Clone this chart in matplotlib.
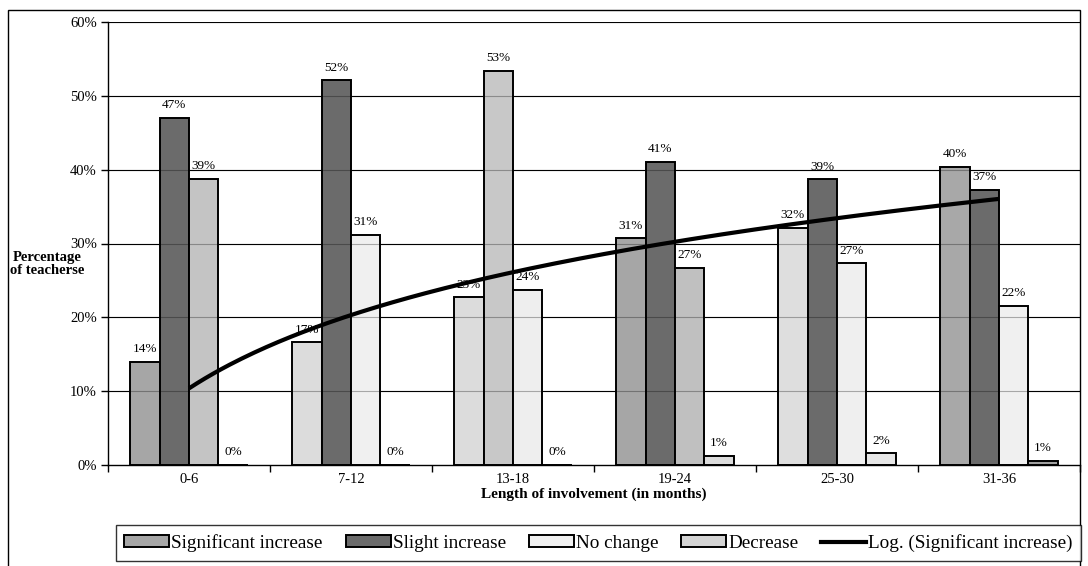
import numpy as np
import matplotlib
matplotlib.use("Agg")
import matplotlib.pyplot as plt
from matplotlib.patches import Patch, Rectangle
from matplotlib.lines import Line2D
from matplotlib.ticker import FixedLocator, NullFormatter

# ---- data -------------------------------------------------------------
categories = ["0-6", "7-12", "13-18", "19-24", "25-30", "31-36"]
series_names = ["Significant increase", "Slight increase", "No change", "Decrease"]
significant = [14.0, 16.6, 22.7, 30.7, 32.1, 40.4]
slight = [47.0, 52.1, 53.4, 41.1, 38.7, 37.3]
no_change = [38.8, 31.2, 23.7, 26.7, 27.3, 21.6]
decrease = [0.0, 0.0, 0.0, 1.2, 1.6, 0.6]
y_ticks = [0, 10, 20, 30, 40, 50, 60]

# ---- styling ----------------------------------------------------------
# fill shade of each bar (rows = series, columns = categories)
bar_fills = [
    ["#a6a6a6", "#dcdcdc", "#dcdcdc", "#a6a6a6", "#dedede", "#a8a8a8"],
    ["#6b6b6b", "#6b6b6b", "#c8c8c8", "#6b6b6b", "#6b6b6b", "#6b6b6b"],
    ["#c4c4c4", "#f0f0f0", "#eeeeee", "#c0c0c0", "#efefef", "#f0f0f0"],
    ["#d8d8d8", "#d8d8d8", "#d8d8d8", "#dcdcdc", "#e6e6e6", "#a0a0a0"],
]
legend_fills = ["#a6a6a6", "#6b6b6b", "#f0f0f0", "#d4d4d4"]

plt.rcParams["font.family"] = ["Liberation Serif", "DejaVu Serif"]

W, H = 1088, 566
fig = plt.figure(figsize=(W / 100, H / 100), dpi=100)
left_px, right_px, top_px, bottom_px = 108, 1080, 22, 465
ax = fig.add_axes([left_px / W, 1 - bottom_px / H,
                   (right_px - left_px) / W, (bottom_px - top_px) / H])

all_series = [significant, slight, no_change, decrease]
n_series = len(all_series)
x = np.arange(len(categories))
bar_w = 1.0 / (n_series + 1.5)          # 150% gap between clusters

for s, values in enumerate(all_series):
    offs = (s - (n_series - 1) / 2) * bar_w
    ax.bar(x + offs, values, width=bar_w, color=bar_fills[s],
           edgecolor="black", linewidth=1.4, zorder=2)
    for xi, v in zip(x, values):
        ax.text(xi + offs, v + 0.9, f"{v:.0f}%", ha="center", va="bottom",
                fontsize=9.5, zorder=4)

# logarithmic trend line fitted to the "Significant increase" series
period = x + 1
coef = np.polyfit(np.log(period), significant, 1)
p_fine = np.linspace(1, len(categories), 200)
trend = coef[0] * np.log(p_fine) + coef[1]
ax.plot(p_fine - 1, trend, color="black", linewidth=3.0, zorder=5,
        solid_capstyle="butt")

# gridlines: solid behind bars, faint on top so they show through the fills
ax.set_axisbelow(True)
for t in y_ticks[1:]:
    ax.axhline(t, color="black", linewidth=0.8, zorder=1)
    ax.axhline(t, color="black", linewidth=0.8, alpha=0.3, zorder=3)

ax.set_xlim(-0.5, len(categories) - 0.5)
ax.set_ylim(0, 60)
ax.set_yticks(y_ticks)
ax.set_yticklabels([f"{t}%" for t in y_ticks])
ax.tick_params(axis="y", length=5, width=1, direction="out", labelsize=10.5, pad=3)

# category boundaries carry the tick marks, names sit centred below
ax.xaxis.set_major_locator(FixedLocator(np.arange(len(categories) + 1) - 0.5))
ax.xaxis.set_major_formatter(NullFormatter())
ax.xaxis.set_minor_locator(FixedLocator(x))
ax.set_xticklabels(categories, minor=True)
ax.tick_params(axis="x", which="major", length=5, width=1, direction="out")
ax.tick_params(axis="x", which="minor", length=0, labelsize=10.5, pad=6)

for side in ("top", "right"):
    ax.spines[side].set_visible(False)
for side in ("left", "bottom"):
    ax.spines[side].set_linewidth(1.0)
    ax.spines[side].set_color("black")

ax.set_xlabel("Length of involvement (in months)", fontsize=11,
              fontweight="bold", labelpad=1)
fig.text(47 / W, 1 - 264 / H, "Percentage\nof teacherse", ha="center",
         va="center", fontsize=10.5, fontweight="bold", linespacing=1.0)

# outer chart frame
fig.patches.append(Rectangle((8 / W, -0.05), (1080 - 8) / W, 1.05 - 10 / H,
                             transform=fig.transFigure, fill=False,
                             edgecolor="black", linewidth=1.0))

handles = [Patch(facecolor=c, edgecolor="black", linewidth=1.4, label=n)
           for c, n in zip(legend_fills, series_names)]
handles.append(Line2D([], [], color="black", linewidth=3.0,
                      label="Log. (Significant increase)"))
leg = fig.legend(handles=handles, loc="center", ncol=5,
                 bbox_to_anchor=((112 + 1085) / 2 / W, 1 - 543 / H),
                 frameon=True, fancybox=False, edgecolor="black",
                 fontsize=13.8, handlelength=2.35, handleheight=0.55,
                 handletextpad=0.1, columnspacing=1.2, borderpad=0.45)
leg.get_frame().set_linewidth(1.0)

fig.savefig("out.png", dpi=100)
